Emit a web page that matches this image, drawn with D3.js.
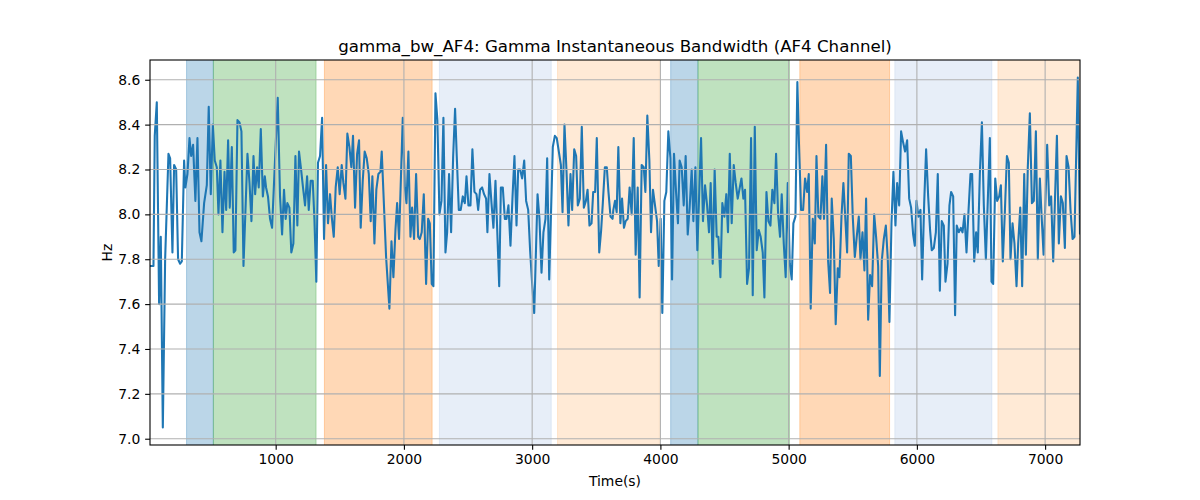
<!DOCTYPE html>
<html><head><meta charset="utf-8">
<script src="https://cdn.jsdelivr.net/npm/d3@7"></script>
<style>body{margin:0;background:#fff}</style>
</head><body><svg id="c" width="1200" height="500"></svg>
<script>
// ---- data ----
const timeSec = [
20,36,47,57,73,91,104,120,138,164,177,195,208,224,239,255,268,286,296,312,328,341,356,374,390,406,421,442,463,478,494,510,525,541,554,569,585,601,614,629,642,658,673,686,702,718,733,749,780,796,811,827,840,855,868,884,900,915,
925,940,956,972,1016,1034,1050,1065,1078,1091,1107,1122,1138,1154,1169,1182,1198,1213,1229,1245,1258,1273,1289,1302,1317,1330,1346,1362,1377,1393,1408,1424,1437,1453,1468,1484,1499,1515,1528,1544,1559,1575,1590,1603,1619,1635,1650,1663,1679,1694,1710,1726,1741,1754,1770,1785,1801,1817,
1827,1861,1887,1903,1918,1934,1947,1962,1991,2007,2020,2035,2051,2064,2079,2095,2111,2124,2139,2155,2173,2189,2202,2217,2230,2246,2261,2277,2293,2308,2324,2337,2352,2368,2384,2399,2412,2428,2443,2459,2475,2488,2503,2519,2534,2550,2566,2579,2594,2610,2625,2641,2651,2667,2683,2698,2714,
2743,2756,2771,2787,2800,2815,2831,2847,2862,2878,2891,2906,2922,2938,2953,2969,2984,3000,3016,3042,3057,3073,3088,3104,3117,3133,3161,3177,3192,3208,3224,3237,3252,3268,3283,3299,3312,3328,3343,3356,3372,3387,3403,3419,3432,3447,3463,3476,3491,3504,3523,3538,3551,3567,3582,3595,3611,3627,
3633,3646,3659,3672,3688,3701,3716,3729,3745,3760,3776,3792,3807,3823,3838,3854,3870,3883,3898,3914,3927,3942,3958,3974,3987,4002,4015,4031,4046,4062,4078,4091,4106,4122,4137,4150,4166,4182,4197,4213,4228,4244,4257,4273,4288,4317,4332,4348,4364,4379,4392,4408,4423,4439,4452,4468,4483,4499,4514,4527,
4541,4556,4572,4587,4603,4616,4632,4647,4660,4676,4691,4707,4720,4736,4751,4767,4782,4798,4811,4827,4842,4858,4873,4889,4902,4918,4933,4946,4962,4977,4993,5009,5024,5037,5053,5068,5081,5097,5113,5128,5144,5157,5172,5188,5204,5217,5232,5248,5263,5276,5292,5308,5323,5336,5352,5367,5383,5396,5412,5427,
5456,5469,5485,5500,5516,5531,5547,5560,5576,5591,5604,5620,5635,5651,5667,5682,5698,5711,5726,5742,5758,5773,5786,5802,5817,5833,5846,5862,5877,5893,5908,5924,5940,5955,5971,5984,5997,6012,6028,6041,6057,6072,6088,6103,6116,6132,6148,6163,6179,6194,6210,6223,6239,6254,6267,6283,6298,6311,6327,6343,
6356,6371,6387,6403,6418,6431,6447,6462,6475,6491,6507,6522,6538,6553,6569,6582,6595,6611,6626,6642,6655,6670,6686,6702,6717,6730,6746,6761,6777,6790,6806,6821,6837,6850,6865,6881,6897,6912,6928,6943,6959,6972,6988,7003,7016,7032,7047,7063,7076,7092,7107,7123,7138,7154,7167,7183,7198,7214,7229,7255,7272
];
const bandwidthHz = [
7.77,7.77,7.77,8.35,8.50,7.60,7.90,7.05,7.80,8.27,8.25,7.83,8.22,8.20,7.80,7.78,7.79,8.24,8.12,8.18,8.34,8.26,8.31,8.06,8.34,7.92,7.88,8.05,8.13,8.48,8.09,8.40,8.24,8.21,8.00,8.24,7.92,8.19,8.02,8.33,8.03,8.30,7.83,7.84,8.42,8.41,8.37,7.77,8.27,8.14,7.97,8.26,8.09,8.21,8.12,8.38,8.08,8.17,
8.12,8.08,7.98,7.94,8.52,8.08,7.91,8.11,7.98,8.05,8.03,7.83,7.87,8.26,7.95,8.28,8.20,8.12,8.04,8.17,8.02,8.15,8.15,7.98,7.70,8.23,8.26,8.43,7.89,8.22,7.96,8.09,7.99,7.90,8.12,8.21,8.09,8.22,8.14,8.07,8.36,8.30,8.21,8.35,8.03,8.27,8.33,7.94,8.15,8.28,8.25,8.18,7.97,8.17,7.87,8.11,8.18,8.19,
8.28,7.81,7.58,7.88,7.72,7.93,8.05,7.89,8.43,8.12,8.05,8.28,7.90,8.03,7.89,8.18,7.90,7.89,7.92,8.09,7.69,7.98,7.96,7.69,7.68,8.54,8.42,8.00,8.06,8.43,7.83,7.92,8.18,7.92,8.26,8.47,8.26,8.02,8.02,8.08,8.05,8.17,8.04,8.04,8.29,8.10,8.09,8.02,8.11,8.12,8.09,8.07,7.92,8.18,8.05,7.94,8.15,
7.68,8.12,8.12,7.98,7.98,8.04,7.86,8.08,8.26,7.95,8.20,8.20,8.16,8.24,8.06,8.02,7.84,7.69,7.56,8.09,7.98,7.74,7.92,7.98,8.25,7.71,8.30,8.35,8.34,8.28,8.22,8.01,8.40,8.19,7.95,8.18,8.02,8.29,8.26,8.04,8.07,8.39,8.03,8.06,8.11,7.95,7.96,8.10,8.10,8.34,7.83,7.93,8.05,8.21,8.21,8.10,7.99,7.98,
8.02,8.06,8.01,8.30,7.96,8.07,7.94,7.97,7.98,8.12,8.00,8.34,7.82,8.12,7.63,8.22,8.21,8.10,8.44,8.24,7.92,8.11,8.04,7.97,7.77,7.98,7.56,8.06,8.10,8.37,8.25,7.71,8.27,8.10,7.96,8.24,8.21,8.04,8.26,7.91,8.03,8.20,7.97,8.21,7.84,8.34,7.97,8.13,8.04,7.92,8.14,7.78,8.20,7.90,7.90,7.72,8.05,7.99,8.09,7.92,
8.27,7.96,8.22,8.14,8.07,8.11,8.16,8.07,8.11,7.69,7.76,8.34,7.64,8.39,7.84,7.93,7.90,7.83,7.63,8.10,7.97,7.95,8.11,8.05,8.27,8.00,7.90,8.09,7.87,7.72,8.14,7.78,7.71,7.96,7.99,8.59,8.31,8.02,8.02,8.16,8.10,8.18,7.58,7.98,7.87,8.26,7.99,7.98,8.17,7.98,8.31,7.79,7.65,8.07,7.89,7.51,7.76,7.72,7.99,8.14,
7.83,8.27,8.26,7.99,7.81,7.90,7.99,7.80,7.92,7.75,8.07,7.53,7.73,7.68,8.00,7.90,7.77,7.28,7.79,7.89,7.95,7.80,7.52,7.96,8.19,7.95,8.14,8.04,8.37,8.32,8.28,8.33,8.07,8.03,7.91,7.86,8.06,7.99,8.02,7.71,8.05,8.29,8.08,7.93,7.84,7.85,7.92,8.18,7.66,7.97,7.95,7.70,7.78,8.04,8.10,8.08,7.55,7.95,7.92,7.94,
7.92,8.00,7.83,8.02,8.18,8.18,7.79,7.92,7.83,8.18,8.41,8.04,7.80,8.06,8.34,7.70,7.69,8.16,8.06,8.08,8.13,7.79,8.01,8.26,8.23,7.80,7.96,7.87,7.68,7.87,8.03,7.68,8.18,7.82,8.21,8.45,8.05,8.06,8.37,7.80,8.16,8.00,7.82,8.07,8.31,8.04,8.08,7.79,8.05,8.35,7.87,8.08,8.05,7.85,8.26,8.21,8.02,7.89,7.90,8.61,7.91
];
const spanStart = [305, 514, 1380, 2277, 3198, 4080, 4293, 5087, 5828, 6632];
const spanEnd   = [514, 1315, 2220, 3149, 3992, 4293, 5006, 5787, 6585, 7400];
const spanKind  = ["blue","green","orange","lightblue","lightorange","blue","green","orange","lightblue","lightorange"];
const xTicks = [1000, 2000, 3000, 4000, 5000, 6000, 7000];
const yTicks = [7.0, 7.2, 7.4, 7.6, 7.8, 8.0, 8.2, 8.4, 8.6];
const titleText = "gamma_bw_AF4: Gamma Instantaneous Bandwidth (AF4 Channel)";
const xLabel = "Time(s)";
const yLabel = "Hz";

// ---- styles ----
const kindColor = {blue:"#1f77b4", green:"#2ca02c", orange:"#ff7f0e", lightblue:"#aec7e8", lightorange:"#ffbb78"};
const FONT = "DejaVu Sans, sans-serif";
const L = 150, R = 1080, T = 60, B = 445;

const svg = d3.select("#c");
svg.append("rect").attr("width",1200).attr("height",500).attr("fill","#fff");

const n = Math.min(timeSec.length, bandwidthHz.length);
const pts = d3.range(n).map(i => [timeSec[i], bandwidthHz[i]]);

const x = d3.scaleLinear().domain(d3.extent(pts, d => d[0])).range([L, R]);
const [lo, hi] = d3.extent(pts, d => d[1]);
const pad = (hi - lo) * 0.05;
const y = d3.scaleLinear().domain([lo - pad, hi + pad]).range([B, T]);

svg.append("defs").append("clipPath").attr("id","clip")
  .append("rect").attr("x",L).attr("y",T).attr("width",R-L).attr("height",B-T);

const plot = svg.append("g").attr("clip-path","url(#clip)");

// spans
plot.selectAll("rect.span").data(spanStart.map((s,i)=>({s, e:spanEnd[i], k:spanKind[i]})))
  .enter().append("rect").attr("class","span")
  .attr("x", d => x(d.s)).attr("width", d => x(d.e) - x(d.s))
  .attr("y", T - 2).attr("height", B - T + 4)
  .attr("fill", d => kindColor[d.k]).attr("fill-opacity", 0.3)
  .attr("stroke", d => kindColor[d.k]).attr("stroke-opacity", 0.3).attr("stroke-width", 1);

// grid
const grid = svg.append("g");
grid.selectAll("line.gx").data(xTicks).enter().append("line")
  .attr("x1", d => x(d)).attr("x2", d => x(d)).attr("y1", T).attr("y2", B)
  .attr("stroke","#b0b0b0").attr("stroke-width",1.1);
grid.selectAll("line.gy").data(yTicks).enter().append("line")
  .attr("y1", d => y(d)).attr("y2", d => y(d)).attr("x1", L).attr("x2", R)
  .attr("stroke","#b0b0b0").attr("stroke-width",1.1);

// line
plot.append("path").datum(pts)
  .attr("fill","none").attr("stroke","#1f77b4").attr("stroke-width",2.08)
  .attr("stroke-linejoin","round").attr("stroke-linecap","butt")
  .attr("d", d3.line().x(d => x(d[0])).y(d => y(d[1])));

// axes
const xAxis = svg.append("g").attr("transform",`translate(0,${B})`)
  .call(d3.axisBottom(x).tickValues(xTicks).tickFormat(d3.format("d")).tickSize(4.86).tickPadding(4.4).tickSizeOuter(0));
const yAxis = svg.append("g").attr("transform",`translate(${L},0)`)
  .call(d3.axisLeft(y).tickValues(yTicks).tickFormat(d3.format(".1f")).tickSize(4.86).tickPadding(4.86).tickSizeOuter(0));
[xAxis, yAxis].forEach(g => {
  g.select(".domain").remove();
  g.selectAll(".tick line").attr("stroke","#000").attr("stroke-width",1.1);
  g.selectAll(".tick text").attr("fill","#000").style("font-family",FONT).style("font-size","13.9px");
});

// spines
svg.append("rect").attr("x",L).attr("y",T).attr("width",R-L).attr("height",B-T)
  .attr("fill","none").attr("stroke","#000").attr("stroke-width",1.1);

// texts
svg.append("text").attr("x",(L+R)/2).attr("y",52).attr("text-anchor","middle")
  .style("font-family",FONT).style("font-size","16.67px").attr("fill","#000").text(titleText);
svg.append("text").attr("x",(L+R)/2).attr("y",486).attr("text-anchor","middle")
  .style("font-family",FONT).style("font-size","13.9px").attr("fill","#000").text(xLabel);
svg.append("text").attr("transform",`translate(112,${(T+B)/2}) rotate(-90)`).attr("text-anchor","middle")
  .style("font-family",FONT).style("font-size","13.9px").attr("fill","#000").text(yLabel);
</script></body></html>
